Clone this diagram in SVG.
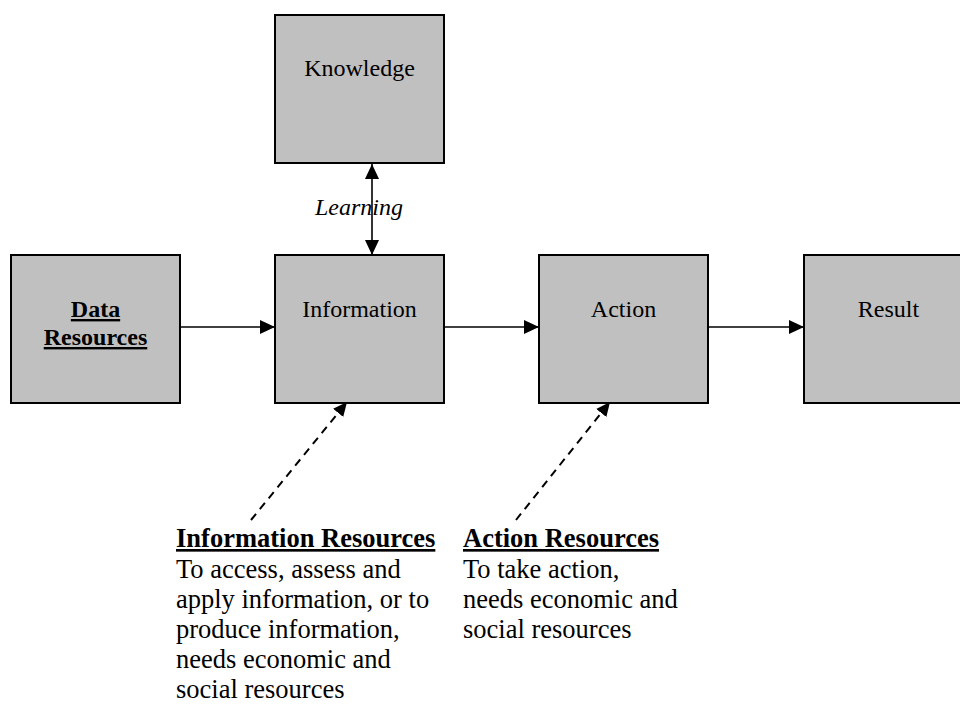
<svg xmlns="http://www.w3.org/2000/svg" width="960" height="705" viewBox="0 0 960 705">
<style>
.box{fill:#c0c0c0;stroke:#000;stroke-width:2}
.lbl{font-family:"Liberation Serif","Times New Roman",serif;font-size:24px;fill:#000;text-anchor:middle}
.b{font-weight:bold;text-decoration:underline}
.ln{stroke:#000;stroke-width:1.6;fill:none}
.dash{stroke:#000;stroke-width:2;fill:none;stroke-dasharray:8 6}
.txt{font-family:"Liberation Serif","Times New Roman",serif;font-size:26.5px;fill:#000}
</style>
<defs>
<marker id="ah" markerWidth="15" markerHeight="14" refX="15" refY="7" orient="auto" markerUnits="userSpaceOnUse">
<path d="M0,0 L15,7 L0,14 Z" fill="#000"/>
</marker>
<marker id="ahs" markerWidth="15" markerHeight="14" refX="0" refY="7" orient="auto" markerUnits="userSpaceOnUse">
<path d="M15,0 L0,7 L15,14 Z" fill="#000"/>
</marker>
<marker id="ahd" markerWidth="14" markerHeight="13" refX="14" refY="6.5" orient="auto" markerUnits="userSpaceOnUse">
<path d="M0,0 L14,6.5 L0,13 Z" fill="#000"/>
</marker>
</defs>
<g id="knowledge"><rect class="box" x="275" y="15" width="169" height="148"/><text class="lbl" x="359.5" y="76">Knowledge</text></g>
<g id="data"><rect class="box" x="11" y="255" width="169" height="148"/><text class="lbl b" x="95.5" y="317">Data</text><text class="lbl b" x="95.5" y="345">Resources</text></g>
<g id="information"><rect class="box" x="275" y="255" width="169" height="148"/><text class="lbl" x="359.5" y="317">Information</text></g>
<g id="action"><rect class="box" x="539" y="255" width="169" height="148"/><text class="lbl" x="623.5" y="317">Action</text></g>
<g id="result"><rect class="box" x="804" y="255" width="169" height="148"/><text class="lbl" x="888.5" y="317">Result</text></g>
<g id="connectors">
<line class="ln" x1="180" y1="327" x2="275" y2="327" marker-end="url(#ah)"/>
<line class="ln" x1="444" y1="327" x2="539" y2="327" marker-end="url(#ah)"/>
<line class="ln" x1="708" y1="327" x2="804" y2="327" marker-end="url(#ah)"/>
<line class="ln" x1="372" y1="164" x2="372" y2="255" marker-start="url(#ahs)" marker-end="url(#ah)"/>
<line class="dash" x1="251" y1="520" x2="347" y2="402" marker-end="url(#ahd)"/>
<line class="dash" x1="516" y1="520" x2="610" y2="402" marker-end="url(#ahd)"/>
<text class="lbl" x="315" y="215" style="font-style:italic;text-anchor:start">Learning</text>
</g>
<g id="info-resources" class="txt">
<text x="176" y="547" font-weight="bold" text-decoration="underline">Information Resources</text>
<text x="176" y="578">To access, assess and</text>
<text x="176" y="608">apply information, or to</text>
<text x="176" y="638">produce information,</text>
<text x="176" y="668">needs economic and</text>
<text x="176" y="698">social resources</text>
</g>
<g id="action-resources" class="txt">
<text x="463" y="547" font-weight="bold" text-decoration="underline">Action Resources</text>
<text x="463" y="578">To take action,</text>
<text x="463" y="608">needs economic and</text>
<text x="463" y="638">social resources</text>
</g>
</svg>
